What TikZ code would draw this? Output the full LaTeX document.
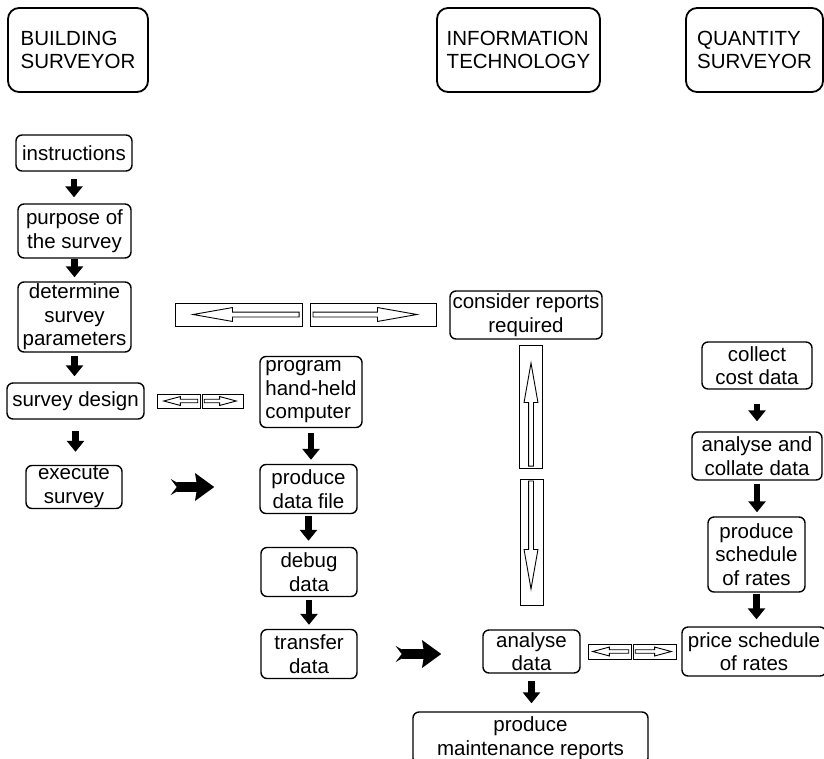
\documentclass[tikz,border=0pt]{standalone}
\usepackage{fontspec}
\setmainfont{Liberation Sans}
\usetikzlibrary{arrows.meta,shapes.arrows}

\begin{document}
\begin{tikzpicture}[
    x=1pt, y=-1pt,
    font=\fontsize{20.5}{23.5}\selectfont,
    colhead/.style={draw, line width=1.8pt, rounded corners=11pt, align=left, minimum height=84pt},
    box/.style={draw, line width=1.4pt, rounded corners=6pt, align=center, inner sep=1pt},
    flow/.style={-{Triangle[length=11pt,width=17pt]}, line width=6.5pt},
    jump/.style={line width=9.5pt, -{Stealth[length=19pt,width=27pt,inset=2pt]}},
    jumptail/.style={line width=9.5pt, {Stealth[reversed,length=14pt,width=16pt,inset=6pt]}-},
    pane/.style={draw, line width=0.9pt, inner sep=0pt},
    hollow/.style={single arrow, draw, fill=white, line width=0.9pt, inner sep=2pt, single arrow head extend=4.5pt, single arrow tip angle=20},
    hollowsm/.style={hollow, inner sep=1.3pt, single arrow head extend=2.7pt, single arrow tip angle=30},
  ]
  \useasboundingbox (0,0) rectangle (824,758);

  % column headers
  \node[colhead, minimum width=140pt] (bs) at (78,50) {BUILDING\\SURVEYOR};
  \node[colhead, minimum width=163pt] (it) at (518.5,50) {INFORMATION\\TECHNOLOGY};
  \node[colhead, minimum width=137pt] (qs) at (754.5,50) {QUANTITY\\SURVEYOR};

  % building surveyor
  \node[box, minimum width=116pt, minimum height=36pt] (instr) at (74,153) {instructions};
  \node[box, minimum width=113pt, minimum height=54pt] (purpose) at (74.5,231) {purpose of\\the survey};
  \node[box, minimum width=113pt, minimum height=70pt] (params) at (74.5,317) {determine\\survey\\parameters};
  \node[box, minimum width=137pt, minimum height=36pt] (design) at (75.5,401) {survey design};
  \node[box, minimum width=96pt, minimum height=43pt] (execute) at (74,487) {execute\\survey};

  % information technology
  \node[box, align=left, minimum width=102pt, minimum height=71pt] (program) at (311,392) {program\\hand-held\\computer};
  \node[box, minimum width=97pt, minimum height=49pt] (datafile) at (308.5,489) {produce\\data file};
  \node[box, minimum width=96pt, minimum height=49pt] (debug) at (309,572) {debug\\data};
  \node[box, minimum width=96pt, minimum height=49pt] (transfer) at (309,654) {transfer\\data};
  \node[box, minimum width=152pt, minimum height=48pt] (reports) at (526,315) {consider reports\\required};
  \node[box, minimum width=97pt, minimum height=43pt] (analyse) at (531.5,651.5) {analyse\\data};
  \node[box, minimum width=235pt, minimum height=52pt] (maint) at (530.5,738) {produce\\maintenance reports};

  % quantity surveyor
  \node[box, minimum width=110pt, minimum height=47pt] (collect) at (757,365.5) {collect\\cost data};
  \node[box, minimum width=130pt, minimum height=48pt] (collate) at (757,456) {analyse and\\collate data};
  \node[box, minimum width=97pt, minimum height=75pt] (schedule) at (756.5,554.5) {produce\\schedule\\of rates};
  \node[box, minimum width=144pt, minimum height=49pt] (price) at (754,651.5) {price schedule\\of rates};

  % flow arrows
  \draw[flow, shorten <=7pt, shorten >=6pt] (instr.south) -- (instr.south |- purpose.north);
  \draw[flow, shorten <=0pt, shorten >=4pt] (purpose.south) -- (purpose.south |- params.north);
  \draw[flow, shorten <=3pt, shorten >=6pt] (params.south) -- (params.south |- design.north);
  \draw[flow, shorten <=11pt, shorten >=13pt] (design.south) -- (design.south |- execute.north);
  \draw[flow, shorten <=5pt, shorten >=4pt] (program.south) -- (program.south |- datafile.north);
  \draw[flow, shorten <=2pt, shorten >=6pt] (datafile.south) -- (datafile.south |- debug.north);
  \draw[flow, shorten <=3pt, shorten >=4pt] (debug.south) -- (debug.south |- transfer.north);
  \draw[flow, shorten <=7pt, shorten >=8pt] (analyse.south) -- (analyse.south |- maint.north);
  \draw[flow, shorten <=14pt, shorten >=10pt] (collect.south) -- (collect.south |- collate.north);
  \draw[flow, shorten <=3pt, shorten >=4pt] (collate.south) -- (collate.south |- schedule.north);
  \draw[flow, shorten <=1pt, shorten >=7pt] (schedule.south) -- (schedule.south |- price.north);

  % hand-over arrows (notched tail drawn separately)
  \draw[jump, shorten <=54pt, shorten >=45pt] (execute.east) -- (execute.east -| datafile.west);
  \draw[jumptail, shorten <=48pt, shorten >=65pt] (execute.east) -- (execute.east -| datafile.west);
  \draw[jump, shorten <=44pt, shorten >=41pt] (transfer.east) -- (transfer.east -| analyse.west);
  \draw[jumptail, shorten <=38pt, shorten >=61pt] (transfer.east) -- (transfer.east -| analyse.west);

  % two-way links
  \node[pane, minimum width=127pt, minimum height=23pt] (topl) at (238.5,314.5) {};
  \node[pane, minimum width=126pt, minimum height=23pt] (topr) at (373,314.5) {};
  \node[hollow, minimum height=106pt, rotate=180] (toplarr) at (253,314.5) {};
  \node[hollow, minimum height=104pt] (toprarr) at (358,314.5) {};

  \node[pane, minimum width=43pt, minimum height=14pt] (desl) at (178.5,401) {};
  \node[pane, minimum width=41pt, minimum height=14pt] (desr) at (222.5,401) {};
  \node[hollowsm, minimum height=34pt, rotate=180] (deslarr) at (184,401) {};
  \node[hollowsm, minimum height=32pt] (desrarr) at (217,401) {};

  \node[pane, minimum width=43pt, minimum height=15pt] (pricel) at (609.5,651.5) {};
  \node[pane, minimum width=43pt, minimum height=15pt] (pricer) at (654.5,651.5) {};
  \node[hollowsm, minimum height=36pt, rotate=180] (pricelarr) at (614,651.5) {};
  \node[hollowsm, minimum height=36pt] (pricerarr) at (650,651.5) {};

  \node[pane, minimum width=23pt, minimum height=123pt] (repu) at (530.5,406.5) {};
  \node[pane, minimum width=23pt, minimum height=126pt] (repd) at (531.5,542) {};
  \node[hollow, minimum height=103pt, rotate=90] (repuarr) at (531,421.5) {};
  \node[hollow, minimum height=108pt, rotate=-90] (repdarr) at (531,528) {};
\end{tikzpicture}
\end{document}
